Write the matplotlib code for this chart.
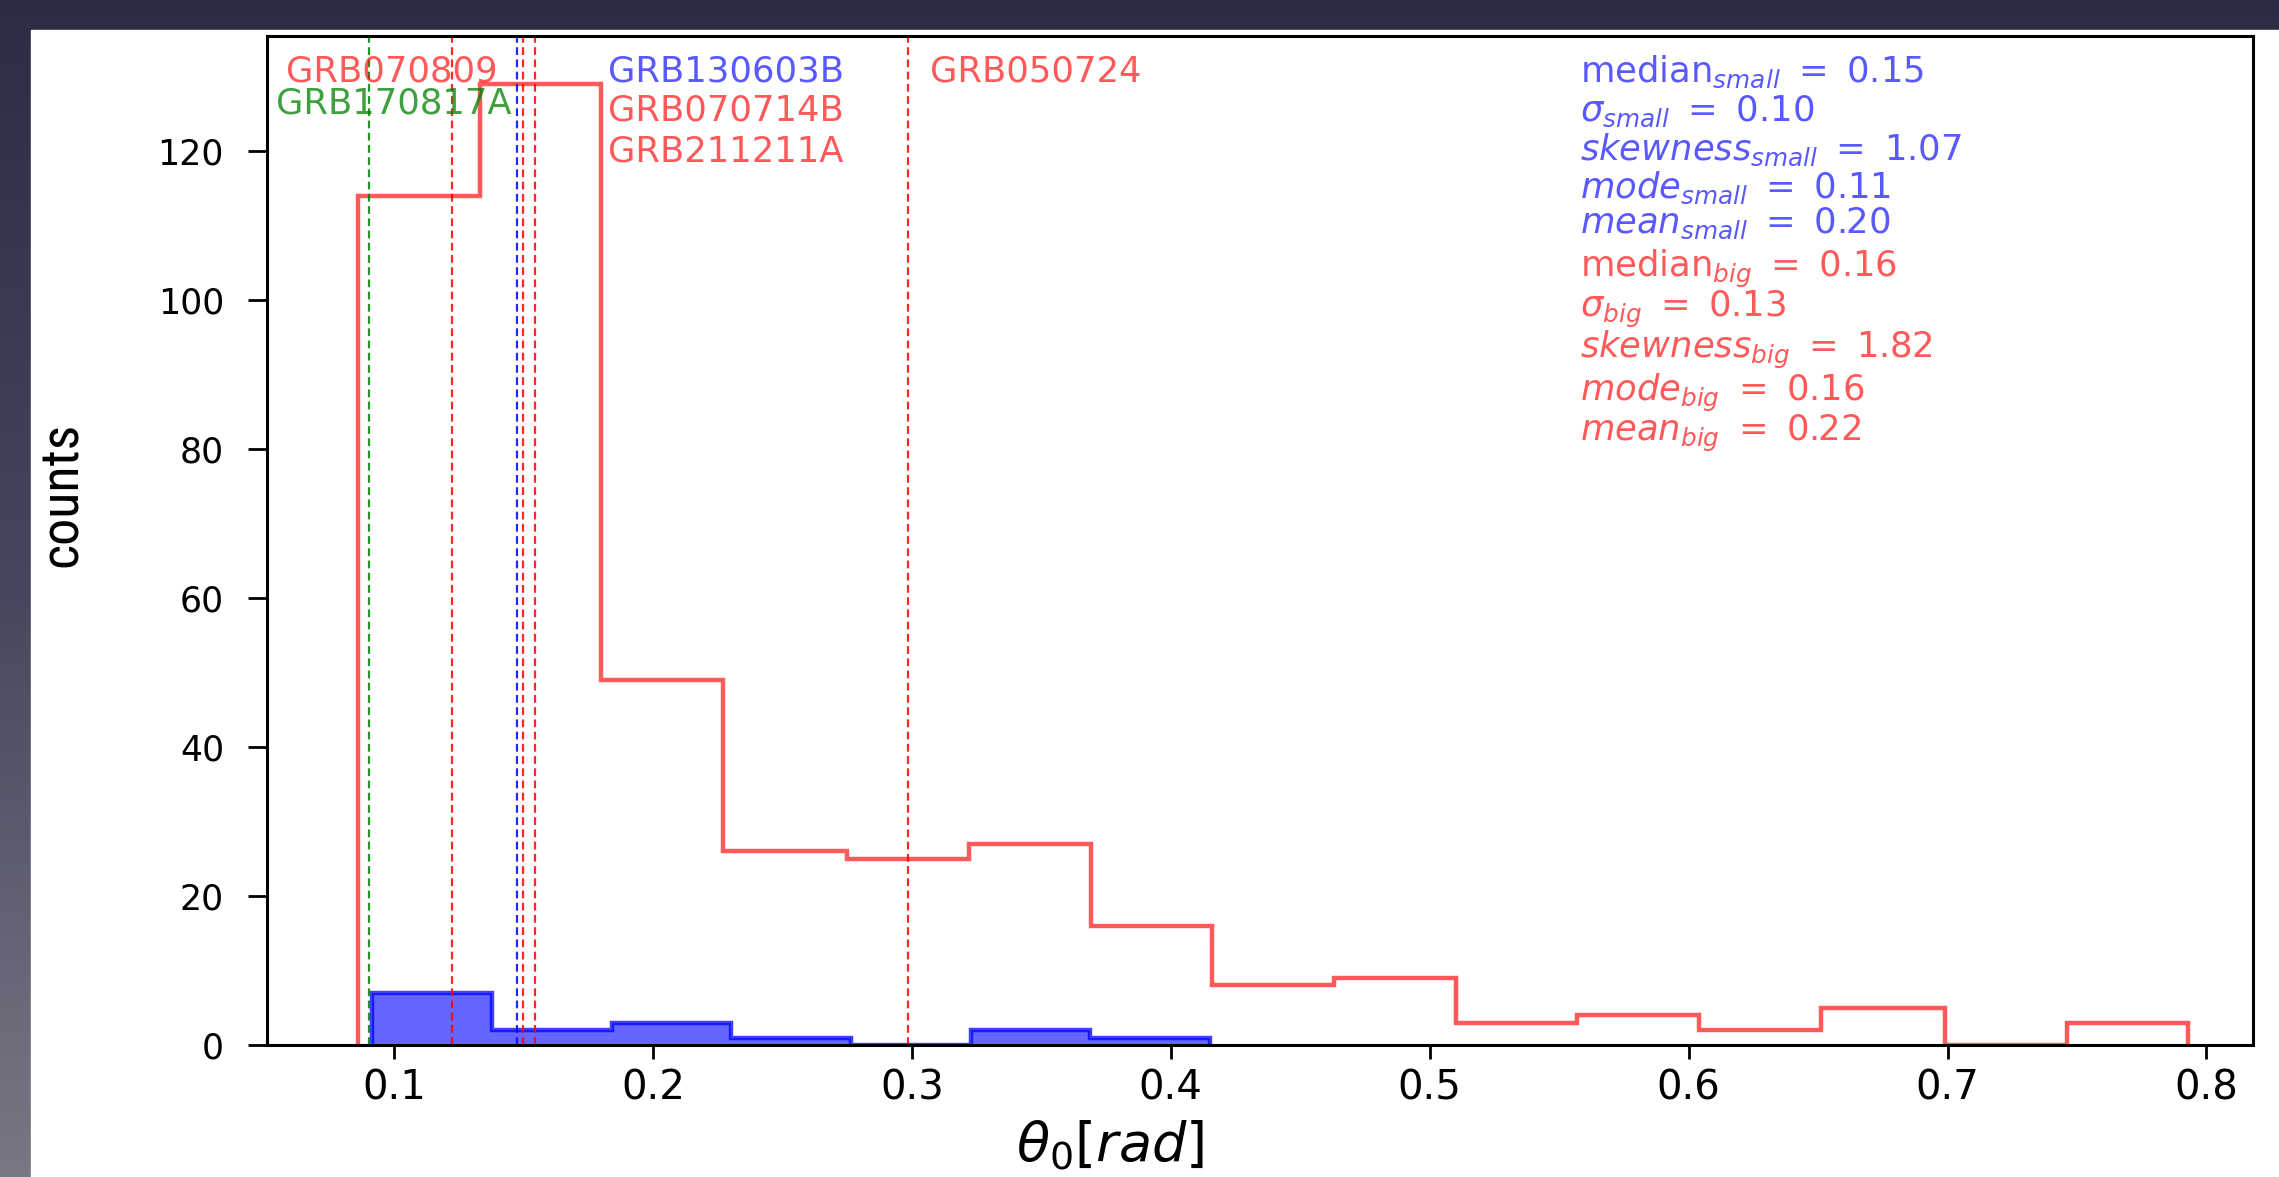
import matplotlib
matplotlib.use('Agg')
import matplotlib.pyplot as plt
import numpy as np
from matplotlib.patches import Rectangle

# opening-angle histograms (bin edges and counts)
big_edges = [0.086, 0.133, 0.180, 0.227, 0.275, 0.322, 0.369, 0.416,
             0.463, 0.510, 0.557, 0.604, 0.651, 0.699, 0.746, 0.793]
big_counts = [114, 129, 49, 26, 25, 27, 16, 8, 9, 3, 4, 2, 5, 0, 3]

small_edges = [0.0915, 0.1377, 0.1840, 0.2302, 0.2765, 0.3227, 0.3689, 0.4152]
small_counts = [7, 2, 3, 1, 0, 2, 1]

# individual bursts
grb_names = ["GRB170817A", "GRB070809", "GRB130603B", "GRB070714B",
             "GRB211211A", "GRB050724"]
grb_theta = [0.0903, 0.1224, 0.1475, 0.1498, 0.1545, 0.2986]
grb_colors = ["green", "red", "blue", "red", "red", "red"]
# label anchors (x, y) in data units
grb_label_x = [0.0544, 0.0583, 0.1827, 0.1827, 0.1827, 0.3071]
grb_label_y = [126.4, 130.7, 130.7, 125.4, 119.9, 130.7]

stat_labels = [r"$\mathrm{median}_{small}\ =\ 0.15$",
               r"$\sigma_{small}\ =\ 0.10$",
               r"$skewness_{small}\ =\ 1.07$",
               r"$mode_{small}\ =\ 0.11$",
               r"$mean_{small}\ =\ 0.20$",
               r"$\mathrm{median}_{big}\ =\ 0.16$",
               r"$\sigma_{big}\ =\ 0.13$",
               r"$skewness_{big}\ =\ 1.82$",
               r"$mode_{big}\ =\ 0.16$",
               r"$mean_{big}\ =\ 0.22$"]
stat_y = [130.6, 125.3, 120.2, 115.1, 110.3, 104.2, 98.7, 93.3, 87.5, 82.1]

W, H = 2279, 1177
fig = plt.figure(figsize=(W / 100, H / 100), dpi=100)

# slide background: dark gradient with a white panel
bg = fig.add_axes([0, 0, 1, 1], zorder=-10)
grad = np.linspace(0, 1, 256)[:, None]
cmap = matplotlib.colors.LinearSegmentedColormap.from_list(
    "slide", ["#2c2c44", "#46465e", "#787884"])
bg.imshow(grad, aspect="auto", cmap=cmap, extent=[0, 1, 0, 1])
bg.add_patch(Rectangle((31 / W, 0), 1, 1 - 30 / H, color="white",
                       transform=bg.transAxes))
bg.set_xlim(0, 1)
bg.set_ylim(0, 1)
bg.axis("off")

ax = fig.add_axes([267 / W, 1 - 1045 / H, (2253 - 267) / W, (1045 - 36) / H])

ax.stairs(small_counts, small_edges, fill=True,
          facecolor=(0, 0, 1, 0.6), edgecolor=(0, 0, 1, 0.75), linewidth=3.2)
ax.stairs(big_counts, big_edges, fill=False,
          edgecolor=(1, 0, 0, 0.65), linewidth=3.2)

for theta, c in zip(grb_theta, grb_colors):
    ax.axvline(theta, color=c, linestyle=(0, (3.5, 2)), linewidth=1.6,
               alpha=0.85)

for name, c, lx, ly in zip(grb_names, grb_colors, grb_label_x, grb_label_y):
    ax.text(lx, ly, name, color=c, alpha=0.65 if c != "green" else 0.75,
            fontsize=25.5, ha="left", va="center")

for i, (s, y) in enumerate(zip(stat_labels, stat_y)):
    c = "blue" if i < 5 else "red"
    ax.text(0.5582, y, s, color=c, alpha=0.65, fontsize=25.5,
            ha="left", va="center")

ax.set_xlim(0.0509, 0.818)
ax.set_ylim(0, 135.45)
ax.set_xticks([0.1, 0.2, 0.3, 0.4, 0.5, 0.6, 0.7, 0.8])
ax.set_yticks([0, 20, 40, 60, 80, 100, 120])
ax.tick_params(axis="x", labelsize=29, length=10, width=2, pad=7)
ax.tick_params(axis="y", labelsize=25, length=14, width=2, pad=17)
for sp in ax.spines.values():
    sp.set_linewidth(2.2)

ax.set_xlabel(r"$\theta_0[rad]$", fontsize=39)
ax.xaxis.set_label_coords(0.4245, -0.073)

fig.text(62 / W, 1 - 494 / H, "counts", rotation=90, fontsize=39,
         family=["Liberation Sans Narrow", "Roboto Condensed",
                 "Open Sans Condensed", "DejaVu Sans"],
         fontstretch="condensed", ha="center", va="center", color="black")

fig.savefig("out.png", dpi=100)
